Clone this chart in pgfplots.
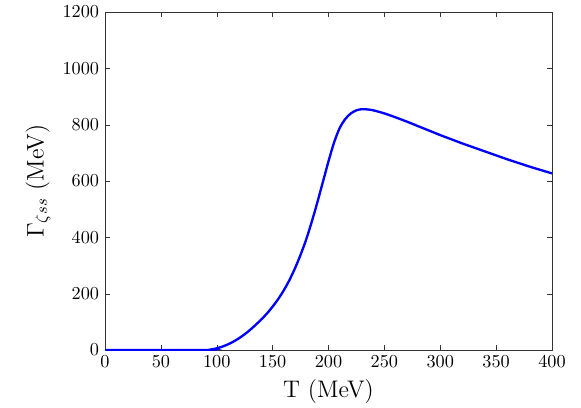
\documentclass[border=0pt]{standalone}
\usepackage{pgfplots}
\pgfplotsset{compat=1.18}
\begin{document}
\begin{tikzpicture}
\begin{axis}[
  scale only axis,
  width=268.2pt, height=202.8pt,
  xmin=0, xmax=400, ymin=0, ymax=1200,
  xtick={0,50,...,400}, ytick={0,200,...,1200},
  /pgf/number format/1000 sep={},
  tick label style={font=\fontsize{10.8}{13}\selectfont},
  tick align=inside,
  major tick length=3pt,
  axis line style={black!80},
  tick style={black!80},
  xlabel={T (MeV)}, ylabel={$\Gamma_{\zeta ss}$ (MeV)},
  label style={font=\Large},
  xlabel style={at={(axis description cs:0.5,-0.124)}, anchor=center},
  ylabel style={at={(axis description cs:-0.15,0.5)}, anchor=center},
  clip=true,
]
\addplot[blue, line width=1.4pt, smooth] coordinates {
(0,0) (90,0) (95,2) (100,6) (105,12) (110,20) (115,30) (120,42) (125,56) (130,72) (135,90) (140,109) (145,130) (150,154) (155,181) (160,212) (165,248) (170,290) (175,338) (180,392) (185,455) (190,524) (195,597) (200,670) (205,737) (210,788) (215,820) (220,840) (225,851) (230,855) (235,854) (240,851) (250,840) (260,826) (270,811) (280,795) (290,779) (300,763) (310,748) (320,733) (330,719) (340,705) (350,691) (360,677) (370,664) (380,651) (390,639) (400,627)
};
\end{axis}
\pgfresetboundingbox
\path ([xshift=-63pt,yshift=-34.2pt]current axis.south west) rectangle ([xshift=17.4pt,yshift=7.2pt]current axis.north east);
\end{tikzpicture}
\end{document}
